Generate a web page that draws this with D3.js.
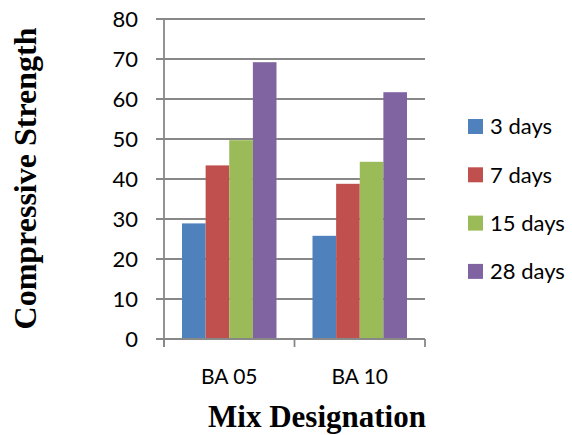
<!DOCTYPE html>
<html>
<head>
<meta charset="utf-8">
<script src="https://cdn.jsdelivr.net/npm/d3@7"></script>
<style>
  body { margin: 0; background: #fff; }
  svg { display: block; }
</style>
</head>
<body>
<div id="svgContainer"></div>
<script>
// chart data
const mixes = ["BA 05", "BA 10"];
const ages = ["3 days", "7 days", "15 days", "28 days"];
const strength3 = [28.9, 25.8];
const strength7 = [43.4, 38.8];
const strength15 = [49.7, 44.3];
const strength28 = [69.2, 61.7];
const yTicks = [0, 10, 20, 30, 40, 50, 60, 70, 80];
const colors = ["#4f81bd", "#c0504d", "#9bbb59", "#8064a2"];

const width = 572, height = 435;
const plot = {left: 164, right: 425, top: 19, bottom: 339};

let svg = d3.select("#svgContainer").append("svg")
    .attr("width", width)
    .attr("height", height);

let series = [strength3, strength7, strength15, strength28];
let rows = [];
mixes.forEach((m, i) => {
    ages.forEach((a, j) => {
        rows.push({mix: m, age: a, value: series[j][i], k: j});
    });
});

let y = d3.scaleLinear().domain([0, 80]).range([plot.bottom, plot.top]);
let x0 = d3.scaleBand().domain(mixes).range([plot.left, plot.right])
    .paddingInner(0.276).paddingOuter(0.138);
let x1 = d3.scaleBand().domain(ages).range([0, x0.bandwidth()]);

// gridlines
svg.append("g")
    .selectAll("line")
    .data(yTicks)
    .join("line")
    .attr("x1", plot.left - 8)
    .attr("x2", plot.right)
    .attr("y1", d => y(d))
    .attr("y2", d => y(d))
    .style("stroke", "#888")
    .style("stroke-width", 1.8);

// y axis
let yAxis = svg.append("g")
    .attr("transform", `translate(${plot.left},0)`)
    .call(d3.axisLeft(y).tickValues(yTicks).tickSize(8).tickPadding(18));
yAxis.select(".domain").remove();
yAxis.selectAll("line").remove();
yAxis.selectAll("text")
    .style("font-family", "Lato, 'Open Sans', sans-serif")
    .style("font-size", "22px")
    .style("fill", "#000");

svg.append("line")
    .attr("x1", plot.left).attr("x2", plot.left)
    .attr("y1", plot.top).attr("y2", plot.bottom + 8)
    .style("stroke", "#888")
    .style("stroke-width", 1.8);

// bars
svg.append("g")
    .selectAll("rect")
    .data(rows)
    .join("rect")
    .attr("x", d => x0(d.mix) + x1(d.age))
    .attr("y", d => y(d.value))
    .attr("width", x1.bandwidth())
    .attr("height", d => y(0) - y(d.value))
    .attr("fill", d => colors[d.k]);

// x axis
let xAxis = svg.append("g")
    .attr("transform", `translate(0,${plot.bottom})`)
    .call(d3.axisBottom(x0).tickSize(0).tickPadding(30));
xAxis.select(".domain").remove();
xAxis.selectAll("text")
    .style("font-family", "Lato, 'Open Sans', sans-serif")
    .style("font-size", "21px")
    .style("fill", "#000");

svg.append("line")
    .attr("x1", plot.left).attr("x2", plot.right)
    .attr("y1", plot.bottom).attr("y2", plot.bottom)
    .style("stroke", "#888")
    .style("stroke-width", 1.8);

svg.append("g")
    .selectAll("line")
    .data([0, 1, 2])
    .join("line")
    .attr("x1", d => plot.left + (plot.right - plot.left) / 2 * d)
    .attr("x2", d => plot.left + (plot.right - plot.left) / 2 * d)
    .attr("y1", plot.bottom)
    .attr("y2", plot.bottom + 8)
    .style("stroke", "#888")
    .style("stroke-width", 1.8);

// axis titles
svg.append("text")
    .text("Compressive Strength")
    .attr("transform", `translate(36,${(25 + 332) / 2}) rotate(-90)`)
    .attr("text-anchor", "middle")
    .style("font-family", "'Liberation Serif', 'Times New Roman', serif")
    .style("font-weight", "bold")
    .style("font-size", "32px");

svg.append("text")
    .text("Mix Designation")
    .attr("x", 317)
    .attr("y", 427)
    .attr("text-anchor", "middle")
    .style("font-family", "'Liberation Serif', 'Times New Roman', serif")
    .style("font-weight", "bold")
    .style("font-size", "31px");

// legend
let legend = svg.append("g")
    .selectAll("g")
    .data(ages)
    .join("g")
    .attr("transform", (d, i) => `translate(468,${119 + i * 48.3})`);
legend.append("rect")
    .attr("width", 15)
    .attr("height", 15)
    .attr("fill", (d, i) => colors[i]);
legend.append("text")
    .text(d => d)
    .attr("x", 22)
    .attr("y", 7.5)
    .attr("dy", "0.35em")
    .style("font-family", "Lato, 'Open Sans', sans-serif")
    .style("font-size", "22px");
</script>
</body>
</html>
